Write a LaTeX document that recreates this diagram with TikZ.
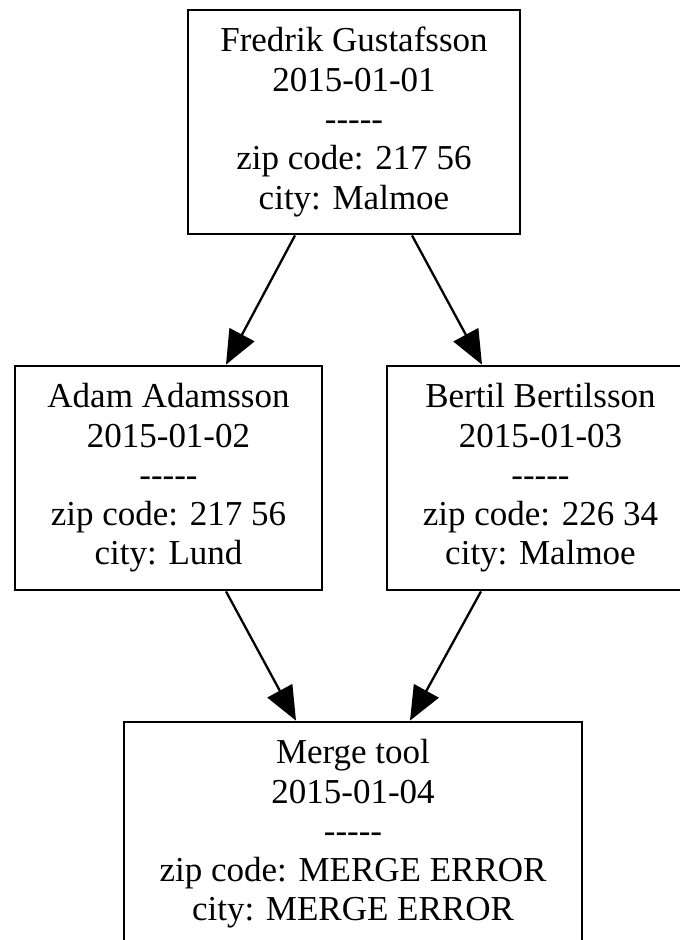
\documentclass[tikz,border=0pt]{standalone}
\usepackage{fontspec}
\setmainfont{Liberation Serif}
\usetikzlibrary{arrows.meta,calc}
\tikzset{
  record/.style={draw=black, line width=2.8pt, rectangle, align=center,
    inner sep=0pt, minimum height=224pt,
    font=\fontsize{35}{39.3}\selectfont},
  link/.style={draw=black, line width=2.3pt,
    -{Triangle[length=34pt,width=28pt]}, shorten >=0pt}
}
\begin{document}
\begin{tikzpicture}[x=1pt, y=-1pt]
  \clip (0,0) rectangle (680,940);
  \useasboundingbox (0,0) rectangle (680,940);
  \fill[white] (0,0) rectangle (680,940);

  % records
  \node[record, minimum width=332pt] (fredrik) at (354,122)
    {Fredrik Gustafsson\\2015-01-01\\-{}-{}-{}-{}-\\zip code: 217 56\\city: Malmoe};
  \node[record, minimum width=307pt] (adam) at (168.5,478)
    {Adam Adamsson\\2015-01-02\\-{}-{}-{}-{}-\\zip code: 217 56\\city: Lund};
  \node[record, minimum width=307pt] (bertil) at (540.5,478)
    {Bertil Bertilsson\\2015-01-03\\-{}-{}-{}-{}-\\zip code: 226 34\\city: Malmoe};
  \node[record, minimum width=458pt] (merge) at (353,834)
    {Merge tool\\2015-01-04\\-{}-{}-{}-{}-\\zip code: MERGE ERROR\\city: MERGE ERROR};

  % parent links
  \draw[link] ($(fredrik.south)+(-59,0)$) -- ($(adam.north)+(57.5,0)$);
  \draw[link] ($(fredrik.south)+(58,0)$) -- ($(bertil.north)+(-58.5,0)$);
  \draw[link] ($(adam.south)+(57.5,0)$) -- ($(merge.north)+(-57,0)$);
  \draw[link] ($(bertil.south)+(-59.5,0)$) -- ($(merge.north)+(57,0)$);
\end{tikzpicture}
\end{document}
